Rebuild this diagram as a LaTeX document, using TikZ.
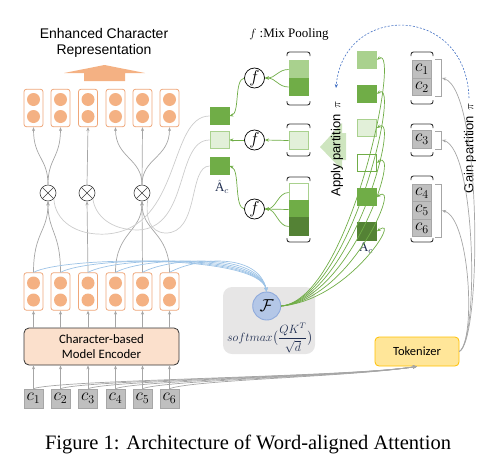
\documentclass[tikz,border=0pt]{standalone}
\usepackage{amsmath}
\usepackage{fontspec}
\setmainfont{Liberation Serif}
\newfontfamily\arialf{Liberation Sans}
\newfontfamily\calf{Carlito}
\usetikzlibrary{arrows.meta,calc}
\definecolor{orfill}{HTML}{F4B183}
\definecolor{orline}{HTML}{EFA77A}
\definecolor{encfill}{HTML}{FBE0CC}
\definecolor{gline}{HTML}{A6A6A6}
\definecolor{lgline}{HTML}{CCCCCC}
\definecolor{gA}{HTML}{548235}
\definecolor{gB}{HTML}{70AD47}
\definecolor{gC}{HTML}{A9D18E}
\definecolor{gD}{HTML}{E2F0D9}
\definecolor{gE}{HTML}{C5E0B4}
\definecolor{blueline}{HTML}{9DC3E6}
\definecolor{Ffill}{HTML}{B4C7E7}
\definecolor{Fline}{HTML}{8FAADC}
\definecolor{graybox}{HTML}{E7E6E6}
\definecolor{tokfill}{HTML}{FFE699}
\definecolor{tokline}{HTML}{FFC000}
\definecolor{cfill}{HTML}{BFBFBF}
\definecolor{cline}{HTML}{A6A6A6}
\definecolor{dashblue}{HTML}{4472C4}
\definecolor{navy}{HTML}{1F2D50}
\begin{document}
\begin{tikzpicture}[x=1pt,y=-1pt,
  tip/.style={-{Stealth[length=4pt,width=3.2pt]}},
  vecbox/.style={draw=orline, line width=0.8pt, rounded corners=2.5pt, minimum width=19pt, minimum height=37.5pt, inner sep=0pt, fill=white},
  dotn/.style={circle, fill=orfill, minimum size=13pt, inner sep=0pt},
  garrow/.style={draw=gline, line width=0.7pt, tip},
  lgcurve/.style={draw=lgline, line width=0.7pt},
  otimesn/.style={circle, draw=black!75, line width=0.6pt, minimum size=16pt, inner sep=0pt},
  cbox/.style={draw=cline, fill=cfill, minimum width=19pt, minimum height=19pt, inner sep=0pt, line width=0.7pt, font=\fontsize{18}{18}\selectfont},
  wbox/.style={draw=cline, fill=cfill, minimum width=18.5pt, minimum height=17.5pt, inner sep=0pt, line width=0.7pt, font=\fontsize{17}{17}\selectfont},
  sq/.style={minimum width=19pt, minimum height=17.5pt, inner sep=0pt, line width=0.8pt},
  fnode/.style={circle, draw=black, line width=0.7pt, minimum size=20pt, inner sep=0pt, fill=white, font=\fontsize{16}{16}\selectfont},
  greenarr/.style={draw=gB, line width=0.7pt, tip},
  brk/.style={draw=black!80, line width=0.9pt, rounded corners=2.5pt},
  rbrk/.style={draw=gline, line width=0.6pt}
]
\useasboundingbox (0,0) rectangle (503,474);

% title and big arrow
\node[font=\arialf\fontsize{14}{15.5}\selectfont, align=center] (enh) at (104,43) {Enhanced Character\\Representation};
\fill[orfill] (64,73) -- (104.5,65) -- (145,73) -- (125,73) -- (125,81) -- (84,81) -- (84,73) -- cycle;

% vector boxes and inputs
\foreach \i/\x in {1/33.5,2/60.5,3/88,4/115.5,5/142.5,6/169.5} {
  \node[vecbox] (t\i) at (\x,108) {};
  \node[dotn] (tu\i) at (\x,99.5) {};
  \node[dotn] (td\i) at (\x,116.5) {};
  \node[vecbox] (b\i) at (\x,291.5) {};
  \node[dotn] (bu\i) at (\x,283) {};
  \node[dotn] (bd\i) at (\x,300) {};
  \node[cbox] (c\i) at (\x,398.5) {$c_{\i}$};
}

% encoder
\node[draw=black!80, fill=encfill, line width=0.8pt, rounded corners=5pt, minimum width=155pt, minimum height=37pt, align=center, font=\calf\fontsize{12.8}{15}\selectfont] (enc) at (101.5,346.5) {Character-based\\Model Encoder};

% otimes
\foreach \i/\x in {1/48,2/87,3/142} {
  \node[otimesn] (o\i) at (\x,193) {};
  \draw[black!75, line width=0.6pt] (o\i.north east) -- (o\i.south west) (o\i.north west) -- (o\i.south east);
}

% F box
\node[fill=graybox, rounded corners=9pt, minimum width=92pt, minimum height=67pt, inner sep=0pt] (fbg) at (269,320.5) {};
\node[circle, draw=Fline, fill=Ffill, minimum size=28pt, inner sep=0pt, line width=0.9pt, font=\fontsize{16}{16}\selectfont] (F) at (266.7,306) {$\mathcal{F}$};
\node[text=navy, font=\fontsize{12}{12}\selectfont, inner sep=0pt] (sm) at (270,338) {$softmax\bigl(\dfrac{QK^T}{\sqrt{d}}\bigr)$};

% tokenizer
\node[draw=tokline, fill=tokfill, line width=0.8pt, rounded corners=4pt, minimum width=84pt, minimum height=29pt, font=\calf\fontsize{12.5}{12.5}\selectfont] (tok) at (417,351.5) {Tokenizer};

% A_hat boxes
\node[sq, fill=gB, draw=gB] (h1) at (219.5,116) {};
\node[sq, fill=gD, draw=gC] (h2) at (219.5,140) {};
\node[sq, fill=gB, draw=gB] (h3) at (219.5,166) {};
\node[text=navy, font=\fontsize{13}{13}\selectfont, inner sep=0pt] (hl) at (222,187) {$\hat{\mathrm{A}}_c$};

% f nodes
\node[fnode] (f1) at (254.5,78) {$f$};
\node[fnode] (f2) at (254.5,140) {$f$};
\node[fnode] (f3) at (254.5,209) {$f$};
\node[font=\fontsize{13}{13}\selectfont] (mp) at (289,34) {$f$ :Mix Pooling};

% pooled stacks
\node[sq, fill=gC, draw=gC] (s1a) at (298.5,69.5) {};
\node[sq, fill=gB, draw=gB] (s1b) at (298.5,87) {};
\node[sq, fill=gD, draw=gC] (s2a) at (298.5,140.5) {};
\node[sq, fill=white, draw=gC] (s3a) at (298.5,192.5) {};
\node[sq, fill=gB, draw=gB] (s3b) at (298.5,209.5) {};
\node[sq, fill=gA, draw=gA] (s3c) at (298.5,226.5) {};
\foreach \yt/\yb in {52/105,124/156,177/242} {
  \draw[brk] (287,\yt+4) -- (287,\yt) -- (310,\yt) -- (310,\yt+4);
  \draw[brk] (287,\yb-4) -- (287,\yb) -- (310,\yb) -- (310,\yb-4);
}

% apply partition arrow
\fill[gE, opacity=0.85] (320,147) -- (342,123) -- (342,133) -- (346,133) -- (346,160) -- (342,160) -- (342,170) -- cycle;
\node[rotate=90, font=\arialf\fontsize{13}{13}\selectfont] (apply) at (337,149) {Apply partition\, $\pi$};

% A_c column
\node[sq, fill=gC, draw=gC] (a1) at (367,59.7) {};
\node[sq, fill=gB, draw=gB] (a2) at (367,93.8) {};
\node[sq, fill=gD, draw=gC] (a3) at (367,128) {};
\node[sq, fill=white, draw=gB] (a4) at (367,162.8) {};
\node[sq, fill=gB, draw=gB] (a5) at (367,197) {};
\node[sq, fill=gA, draw=gA] (a6) at (367,231.3) {};
\node[text=navy, font=\fontsize{13}{13}\selectfont, inner sep=0pt] (al) at (366,248) {$\mathrm{A}_c$};

% word boxes
\node[wbox] (w1) at (422,69.5) {$c_1$};
\node[wbox] (w2) at (422,87) {$c_2$};
\node[wbox] (w3) at (422,139.5) {$c_3$};
\node[wbox] (w4) at (422,193) {$c_4$};
\node[wbox] (w5) at (422,210.5) {$c_5$};
\node[wbox] (w6) at (422,228) {$c_6$};
\foreach \yt/\yb in {52/104,124/156,176/242} {
  \draw[brk] (411,\yt+4) -- (411,\yt) -- (433,\yt) -- (433,\yt+4);
  \draw[brk] (411,\yb-4) -- (411,\yb) -- (433,\yb) -- (433,\yb-4);
}
\draw[rbrk] (435,59) -- (441,59) -- (441,96) -- (435,96);
\draw[rbrk] (435,131) -- (441,131) -- (441,149) -- (435,149);
\draw[rbrk] (435,184) -- (441,184) -- (441,237) -- (435,237);
\coordinate (r1) at (442,78);
\coordinate (r2) at (442,140);
\coordinate (r3) at (442,210.5);
\node[rotate=90, font=\arialf\fontsize{13}{13}\selectfont] (gain) at (470,148) {Gain partition\, $\pi$};

% dashed arc
\coordinate (ds) at (469,98);
\coordinate (de) at (336,88);
\draw[dashblue, line width=0.6pt, dash pattern=on 2pt off 1.6pt, tip] (ds) .. controls (466,3) and (343,3) .. (de);

% ---- connectors ----
\foreach \i in {1,...,6} {
  \draw[garrow] (c\i.north) -- (c\i.north |- enc.south);
  \draw[garrow] (b\i.south |- enc.north) -- (b\i.south);
  \draw[garrow] (c\i.north) .. controls +(25,-9) and (350,377) .. (tok.south);
}
\draw[garrow] (b1.north) .. controls (33.5,232) and (48,232) .. (o1.south);
\draw[garrow] (b2.north) .. controls (60.5,232) and (48,232) .. (o1.south);
\draw[garrow] (b3.north) -- (o2.south);
\draw[garrow] (b4.north) .. controls (115.5,232) and (142,232) .. (o3.south);
\draw[garrow] (b5.north) -- (o3.south);
\draw[garrow] (b6.north) .. controls (169.5,232) and (142,232) .. (o3.south);
\draw[garrow] (o1.north) .. controls (48,158) and (33.5,158) .. (t1.south);
\draw[garrow] (o1.north) .. controls (48,158) and (60.5,158) .. (t2.south);
\draw[garrow] (o2.north) -- (t3.south);
\draw[garrow] (o3.north) .. controls (142,158) and (115.5,158) .. (t4.south);
\draw[garrow] (o3.north) -- (t5.south);
\draw[garrow] (o3.north) .. controls (142,158) and (169.5,158) .. (t6.south);
\draw[lgcurve] (h1.west) .. controls (168,116) and (182,228) .. (107,234) .. controls (75,236) and (55,220) .. (o1.south east);
\draw[lgcurve] (h2.west) .. controls (175,140) and (190,228) .. (138,230) .. controls (110,230) and (95,215) .. (o2.south east);
\draw[lgcurve] (h3.west) .. controls (188,166) and (200,234) .. (165,233) .. controls (150,232) and (145,218) .. (o3.south east);
\foreach \i in {1,...,6} {
  \draw[blueline, line width=0.7pt, tip] (b\i.north) .. controls +(30,-16) and +(-8,-38) .. (F.north);
}
\foreach \i in {1,...,6} {
  \draw[greenarr] (F.east) .. controls (350,300) and (402,{\i*34.3+8}) .. (a\i.east);
}
\draw[greenarr] (s1a.west) .. controls (278,69.5) and (276,78) .. (f1.east);
\draw[greenarr] (s1b.west) .. controls (278,87) and (276,78) .. (f1.east);
\draw[greenarr] (s2a.west) -- (f2.east);
\draw[greenarr] (s3a.west) .. controls (278,192.5) and (276,209) .. (f3.east);
\draw[greenarr] (s3b.west) -- (f3.east);
\draw[greenarr] (s3c.west) .. controls (278,226.5) and (276,209) .. (f3.east);
\draw[greenarr] (f1.west) .. controls (234,80) and (240,113) .. (h1.east);
\draw[greenarr] (f2.west) -- (h2.east);
\draw[greenarr] (f3.west) .. controls (234,207) and (240,170) .. (h3.east);
\draw[garrow] (tok.east) .. controls (482,340) and (482,90) .. (r1);
\draw[garrow] (tok.east) .. controls (479,340) and (476,150) .. (r2);
\draw[garrow] (tok.east) .. controls (476,340) and (470,218) .. (r3);

% caption
\node[font=\fontsize{20.5}{20.5}\selectfont] (cap) at (248,444) {Figure 1: Architecture of Word-aligned Attention};
\end{tikzpicture}
\end{document}
